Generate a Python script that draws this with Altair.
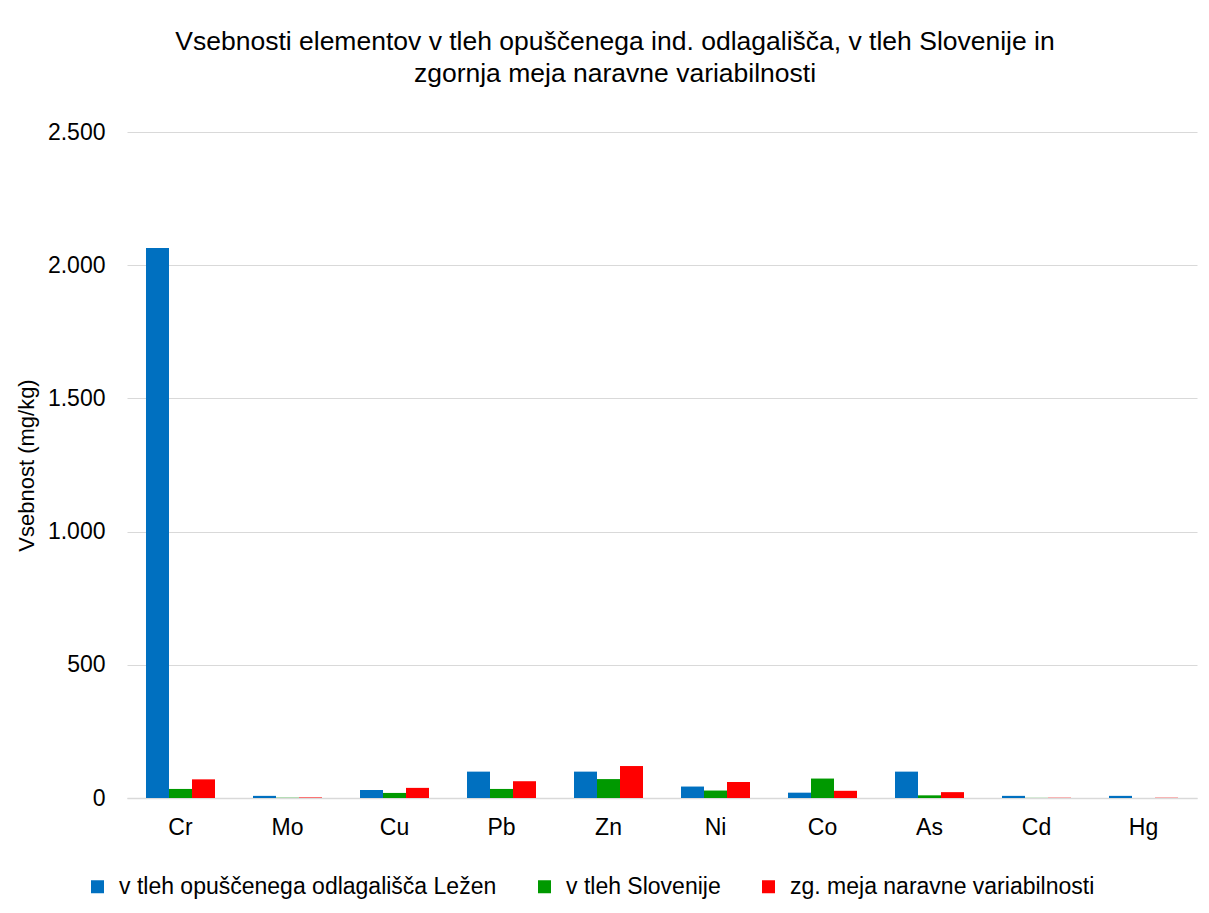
import altair as alt
import pandas as pd

elements = ["Cr", "Mo", "Cu", "Pb", "Zn", "Ni", "Co", "As", "Cd", "Hg"]
series = ["v tleh opuščenega odlagališča Ležen", "v tleh Slovenije", "zg. meja naravne variabilnosti"]
lezen = [2065, 8, 30, 99, 99, 43, 20, 99, 8, 8]
slovenija = [34, 1, 19, 34, 71, 28, 73, 10, 0.5, 0.3]
zg_meja = [70, 2, 38, 63, 120, 60, 27, 22, 1, 1]
colors = ["#0070C0", "#009900", "#FF0000"]
y_ticks = [0, 500, 1000, 1500, 2000, 2500]

rows = []
for s, vals in zip(series, [lezen, slovenija, zg_meja]):
    for e, v in zip(elements, vals):
        rows.append({"element": e, "serija": s, "vrednost": v})
df = pd.DataFrame(rows)

FONT = "Liberation Sans"

chart = alt.Chart(df).mark_bar().encode(
    x=alt.X("element:N", sort=elements, title=None,
            scale=alt.Scale(paddingInner=0.355, paddingOuter=0.1775),
            axis=alt.Axis(labelAngle=0, ticks=False, labelPadding=18, labelFontSize=23,
                          labelFont=FONT, labelColor="#000000", domainColor="#d9d9d9",
                          domainWidth=1.5, grid=False)),
    xOffset=alt.XOffset("serija:N", sort=series, scale=alt.Scale(paddingInner=0, paddingOuter=0)),
    y=alt.Y("vrednost:Q", title="Vsebnost (mg/kg)",
            scale=alt.Scale(domain=[0, 2500], nice=False),
            axis=alt.Axis(values=y_ticks, ticks=False, domain=False, labelPadding=22,
                          labelFontSize=23, labelFont=FONT, labelColor="#000000",
                          labelExpr="replace(format(datum.value, ','), ',', '.')",
                          gridColor="#d9d9d9", gridWidth=1,
                          titleFont=FONT, titleFontSize=22, titleFontWeight="normal",
                          titleColor="#000000", titlePadding=9)),
    color=alt.Color("serija:N", sort=series,
                    scale=alt.Scale(domain=series, range=colors),
                    legend=alt.Legend(title=None, orient="none", direction="horizontal",
                                      legendX=-41, legendY=743, symbolType="square",
                                      symbolSize=169, symbolStrokeWidth=0,
                                      labelFont=FONT, labelFontSize=23, labelColor="#000000",
                                      labelOffset=10, columnPadding=36, labelLimit=600)),
).properties(
    width=1070,
    height=666,
    title=alt.TitleParams(
        text=["Vsebnosti elementov v tleh opuščenega ind. odlagališča, v tleh Slovenije in",
              "zgornja meja naravne variabilnosti"],
        font=FONT, fontSize=26.5, fontWeight="normal", color="#000000",
        anchor="middle", dx=-47, offset=34, lineHeight=32),
    autosize=alt.AutoSizeParams(type="none"),
    padding={"left": 127, "top": 132, "right": 12, "bottom": 115},
).configure_view(stroke=None)

chart.save("out.html", embed_options={"renderer": "svg", "actions": False})
